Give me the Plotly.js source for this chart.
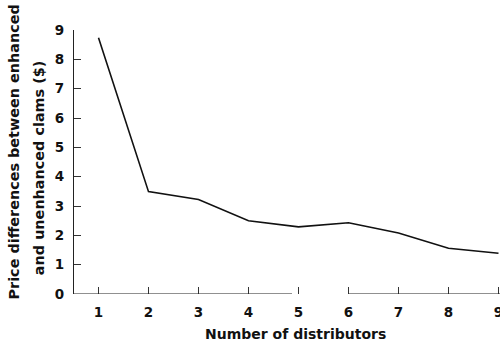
<!DOCTYPE html>
<html>
<head>
<meta charset="utf-8">
<script src="https://cdn.plot.ly/plotly-3.0.1.min.js"></script>
<style>html,body{margin:0;padding:0;background:#fff;overflow:hidden;}#chart{width:500px;height:344px;}</style>
</head>
<body>
<div id="chart"></div>
<script>
const distributors = [1, 2, 3, 4, 5, 6, 7, 8, 9];
const priceDiff = [8.74, 3.49, 3.22, 2.5, 2.29, 2.43, 2.08, 1.56, 1.39];
const xTicks = [1, 2, 3, 4, 5, 6, 7, 8, 9];
const yTicks = [0, 1, 2, 3, 4, 5, 6, 7, 8, 9];
const xTitle = 'Number of distributors';
const yTitleLine1 = 'Price differences between enhanced';
const yTitleLine2 = 'and unenhanced clams ($)';

const tickFont = {family: 'DejaVu Sans', size: 13.5, color: '#111', weight: 'bold'};
const xTitleFont = {family: 'DejaVu Sans', size: 14, color: '#111', weight: 'bold'};
const yTitleFont = {family: 'DejaVu Sans', size: 14.4, color: '#111', weight: 'bold'};

const trace = {
  x: distributors, y: priceDiff, type: 'scatter', mode: 'lines',
  line: {color: '#111', width: 1.6}, hoverinfo: 'skip'
};

const layout = {
  width: 500, height: 344,
  margin: {l: 74, r: 0, t: 30, b: 50},
  paper_bgcolor: '#fff', plot_bgcolor: '#fff',
  showlegend: false,
  xaxis: {
    range: [0.51, 9.03], tickvals: xTicks, ticktext: xTicks.map(String),
    ticks: 'inside', ticklen: 7, tickwidth: 1, tickcolor: '#333',
    ticklabelstandoff: 8, ticklabeloverflow: 'allow',
    showline: false, showgrid: false, zeroline: false,
    tickfont: tickFont
  },
  yaxis: {
    range: [0, 9], tickvals: yTicks, ticktext: yTicks.map(String),
    ticks: 'inside', ticklen: 7, tickwidth: 1, tickcolor: '#333',
    ticklabelstandoff: 6,
    showline: true, linecolor: '#222', linewidth: 1.2,
    showgrid: false, zeroline: false,
    tickfont: tickFont
  },
  shapes: [
    {type: 'line', xref: 'x', yref: 'y', x0: 0.51, x1: 4.87, y0: 0, y1: 0, line: {color: '#222', width: 1.2}},
    {type: 'line', xref: 'x', yref: 'y', x0: 6.0, x1: 9.03, y0: 0, y1: 0, line: {color: '#222', width: 1.2}}
  ],
  annotations: [
    {text: xTitle, xref: 'paper', yref: 'paper', x: 0.519, y: -0.152, xanchor: 'center', yanchor: 'middle',
     showarrow: false, font: xTitleFont},
    {text: yTitleLine1, xref: 'paper', yref: 'paper', x: -0.142, y: 0.538, xanchor: 'center', yanchor: 'middle',
     textangle: -90, showarrow: false, font: yTitleFont},
    {text: yTitleLine2, xref: 'paper', yref: 'paper', x: -0.082, y: 0.477, xanchor: 'center', yanchor: 'middle',
     textangle: -90, showarrow: false, font: yTitleFont}
  ]
};

Plotly.newPlot('chart', [trace], layout, {displayModeBar: false, staticPlot: true});
</script>
</body>
</html>
